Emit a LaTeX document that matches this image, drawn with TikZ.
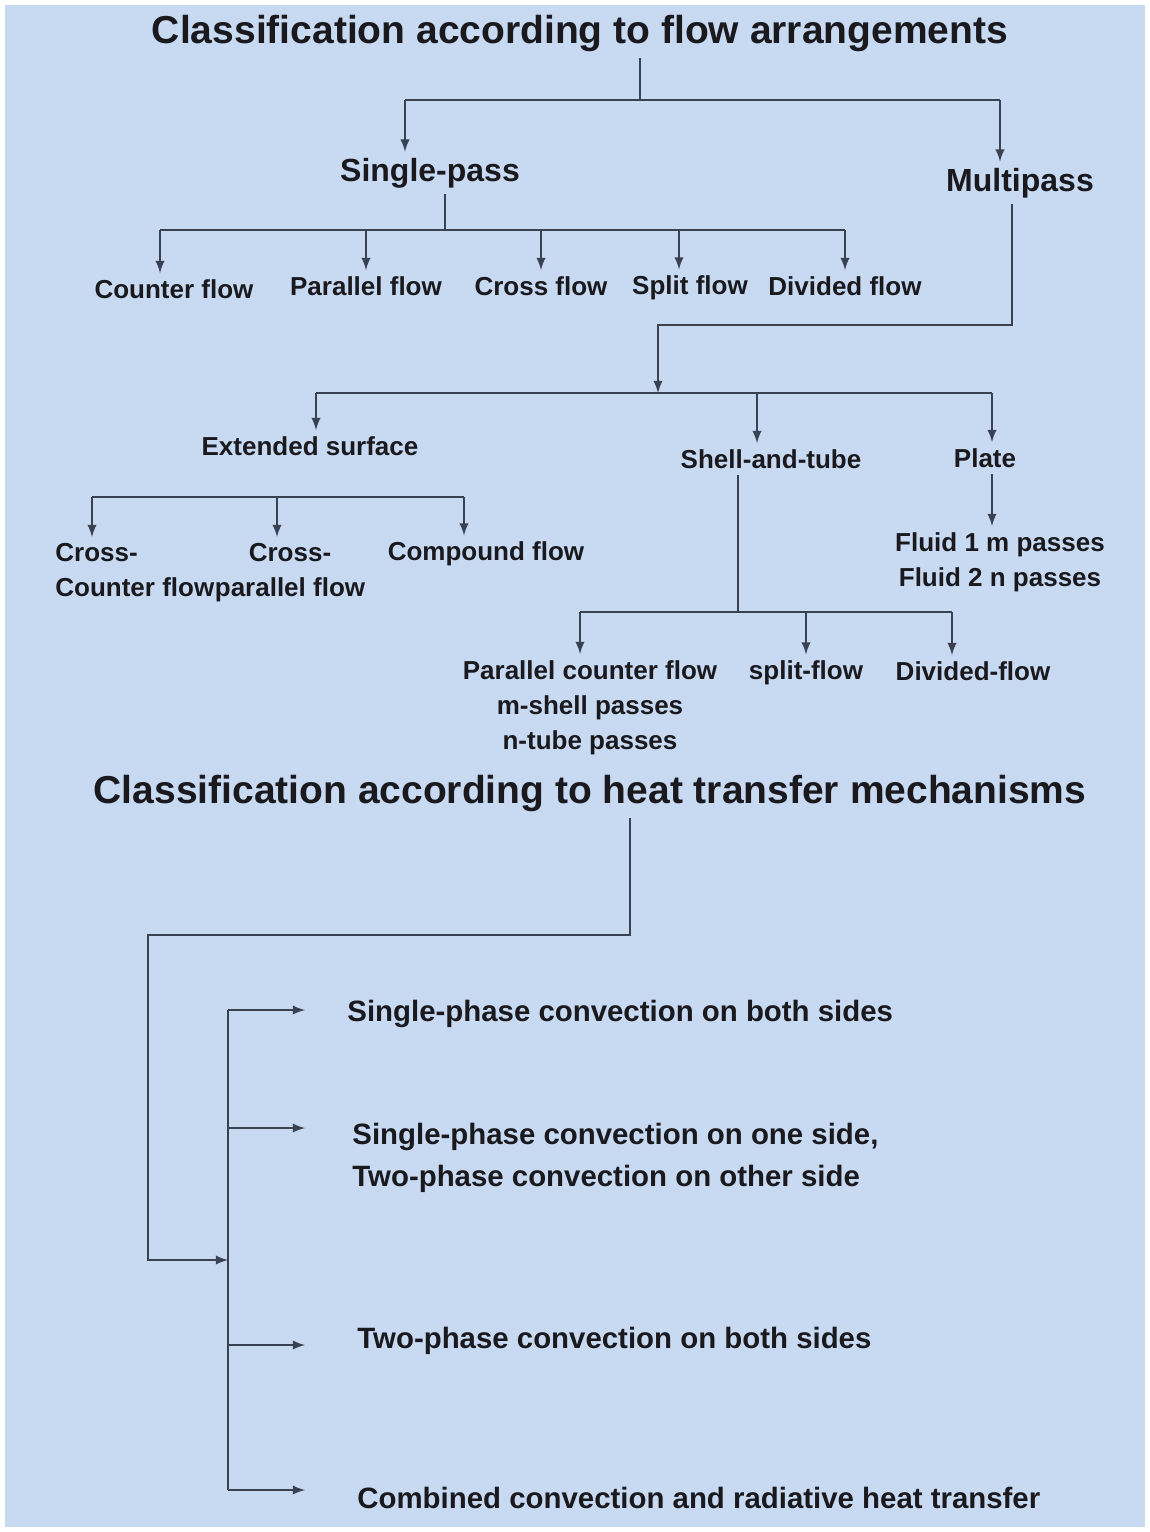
\documentclass[tikz,border=0pt]{standalone}
\usepackage{fontspec}
\setmainfont{Liberation Sans}
\usepackage{tikz}
\usetikzlibrary{arrows}
\definecolor{bgblue}{RGB}{200,217,242}
\definecolor{linec}{RGB}{58,66,82}
\definecolor{txtc}{RGB}{25,25,30}
\tikzstyle{title} = [font=\fontsize{19.5}{22}\selectfont\bfseries, text=txtc]
\tikzstyle{head} = [font=\fontsize{16}{19}\selectfont\bfseries, text=txtc, inner sep=3pt]
\tikzstyle{leaf} = [font=\fontsize{13}{17.5}\selectfont\bfseries, text=txtc, inner sep=3pt]
\tikzstyle{mech} = [font=\fontsize{14.7}{21}\selectfont\bfseries, text=txtc, anchor=west, inner sep=0pt]
\tikzstyle{conn} = [draw=linec, line width=1.1pt]
\tikzstyle{arr} = [conn, -latex]

\begin{document}
\begin{tikzpicture}[x=0.5pt,y=-0.5pt]
  \useasboundingbox (0,0) rectangle (1150,1532);
  \fill[white] (0,0) rectangle (1150,1532);
  \fill[bgblue] (5,5) rectangle (1145,1527);
  % flow arrangements
  \node[title] (ta) at (580,33) {Classification according to flow arrangements};
  \node[head] (sp) at (430,173) {Single-pass};
  \node[head] (mp) at (1020,183) {Multipass};
  \node[leaf] (cf) at (174,289) {Counter flow};
  \node[leaf] (pf) at (366,286) {Parallel flow};
  \node[leaf] (xf) at (541,286) {Cross flow};
  \node[leaf] (sf) at (690,288) {Split flow};
  \node[leaf] (df) at (845,286) {Divided flow};
  \node[leaf] (es) at (310,446) {Extended surface};
  \node[leaf] (st) at (771,459) {Shell-and-tube};
  \node[leaf] (pl) at (985,458) {Plate};
  \node[leaf,align=left,anchor=north west] (ccf) at (49,537) {Cross-\\Counter flow};
  \node[leaf,align=center,anchor=north] (cpf) at (290,537) {Cross-\\parallel flow};
  \node[leaf] (cpd) at (486,554) {Compound flow};
  \node[leaf,align=center,anchor=north] (pcf) at (590,654) {Parallel counter flow\\m-shell passes\\n-tube passes};
  \node[leaf] (spf) at (806,673) {split-flow};
  \node[leaf] (dvf) at (973,671) {Divided-flow};
  \node[leaf,align=center,anchor=north] (fl) at (1000,526) {Fluid 1 m passes\\Fluid 2 n passes};

  \coordinate (ja) at (640,100);
  \coordinate (ba1) at (405,100);
  \coordinate (ba2) at (1000,100);
  \draw[conn] (ja |- ta.south) -- (ja);
  \draw[conn] (ba1) -- (ba2);
  \draw[arr] (ba1) -- (ba1 |- sp.north);
  \draw[arr] (ba2) -- (ba2 |- mp.north);

  % single-pass
  \coordinate (jb) at (445,230);
  \draw[conn] (jb |- sp.south) -- (jb);
  \draw[conn] (160,230) -- (845,230);
  \foreach \x/\n in {160/cf,366/pf,541/xf,679/sf,845/df}
    \draw[arr] (\x,230) -- (\x,0 |- \n.north);

  % multipass
  \coordinate (kc) at (1012,325);
  \coordinate (jc) at (658,393);
  \coordinate (bc1) at (316,393);
  \coordinate (bc2) at (992,393);
  \draw[arr] (kc |- mp.south) -- (kc) -| (jc);
  \draw[conn] (bc1) -- (bc2);
  \draw[arr] (bc1) -- (bc1 |- es.north);
  \draw[arr] (757,393) -- (757,0 |- st.north);
  \draw[arr] (bc2) -- (bc2 |- pl.north);
  \draw[arr] (992,0 |- pl.south) -- (992,0 |- fl.north);

  \draw[conn] (92,497) -- (464,497);
  \foreach \x/\n in {92/ccf,277/cpf,464/cpd}
    \draw[arr] (\x,497) -- (\x,0 |- \n.north);

  \coordinate (jd) at (738,612);
  \draw[conn] (jd |- st.south) -- (jd);
  \draw[conn] (580,612) -- (952,612);
  \foreach \x/\n in {580/pcf,806/spf,952/dvf}
    \draw[arr] (\x,612) -- (\x,0 |- \n.north);

  % heat transfer mechanisms
  \node[title] (tb) at (590,793) {Classification according to heat transfer mechanisms};
  \node[mech] (h1) at (347,1014) {Single-phase convection on both sides};
  \node[mech,align=left] (h2) at (352,1158) {Single-phase convection on one side,\\Two-phase convection on other side};
  \node[mech] (h3) at (357,1341) {Two-phase convection on both sides};
  \node[mech] (h4) at (357,1498) {Combined convection and radiative heat transfer};

  \coordinate (ke) at (630,935);
  \coordinate (kf) at (148,1260);
  \coordinate (je) at (228,1260);
  \draw[arr] (ke |- tb.south) -- (ke) -| (kf) -- (je);
  \draw[conn] (228,1010) -- (228,1490);
  \foreach \y in {1010,1128,1345,1490}
    \draw[arr] (228,\y) -- (305,\y);
\end{tikzpicture}
\end{document}
